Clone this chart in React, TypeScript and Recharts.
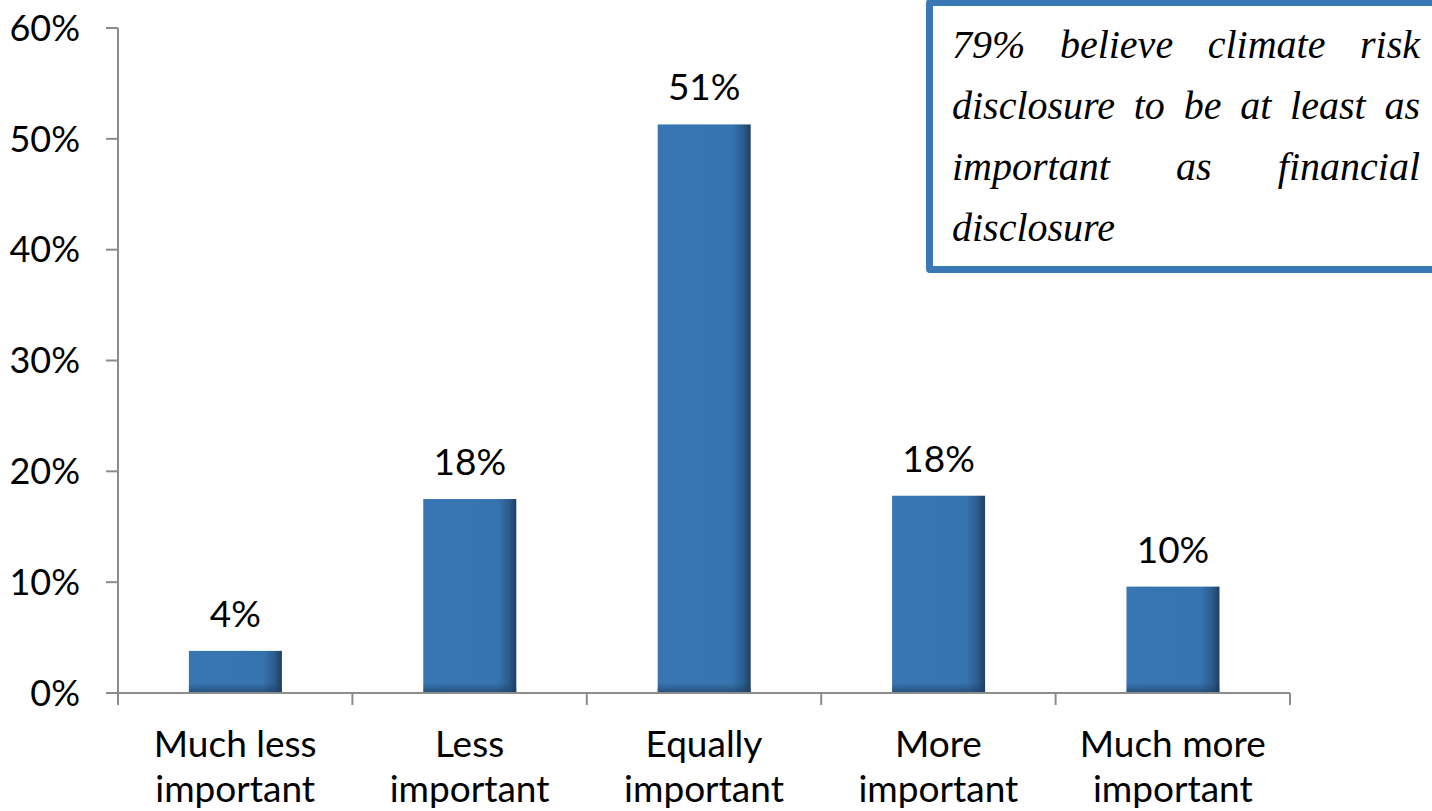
import React from 'react';
import { BarChart, Bar, XAxis, YAxis, LabelList } from 'recharts';

const categories = [
  'Much less\nimportant',
  'Less\nimportant',
  'Equally\nimportant',
  'More\nimportant',
  'Much more\nimportant',
];
const values = [3.8, 17.5, 51.3, 17.8, 9.6];
const yTicks = [0, 10, 20, 30, 40, 50, 60];
const noteLines = [
  '79% believe climate risk',
  'disclosure to be at least as',
  'important as financial',
  'disclosure',
];

const data = categories.map((c, i) => ({ name: c, value: values[i] }));

const FONT = 'Lato, "Open Sans", sans-serif';

const XTick = (props: any) => {
  const { x, y, payload, index } = props;
  const off = payload && payload.offset ? payload.offset : 117;
  const lines = String(payload.value).split('\n');
  return (
    <g>
      <line x1={x + off} x2={x + off} y1={y} y2={y + 12} stroke="#8c8c8c" strokeWidth={2} />
      {index === 0 && (
        <line x1={x - off} x2={x - off} y1={y} y2={y + 12} stroke="#8c8c8c" strokeWidth={2} />
      )}
      {lines.map((l, i) => (
        <text
          key={i}
          x={x}
          y={y + 64 + i * 45}
          textAnchor="middle"
          fontFamily={FONT}
          fontSize={37}
          fill="#000"
        >
          {l}
        </text>
      ))}
    </g>
  );
};

const BarShape = (props: any) => {
  const { x, y, width, height } = props;
  if (!height || height <= 0) return null;
  return (
    <g>
      <rect x={x} y={y} width={width} height={height} fill="url(#barH)" />
      <rect x={x} y={y + height - Math.min(10, height)} width={width} height={Math.min(10, height)} fill="url(#barV)" />
    </g>
  );
};

export default function App() {
  return (
    <div
      style={{
        position: 'absolute',
        left: 0,
        top: 0,
        width: 1432,
        height: 811,
        overflow: 'hidden',
        background: '#fff',
      }}
    >
      <BarChart
        width={1432}
        height={811}
        data={data}
        margin={{ top: 28, right: 142, bottom: 0, left: 0 }}
        barCategoryGap="20%"
      >
        <defs>
          <linearGradient id="barH" x1="0" y1="0" x2="1" y2="0">
            <stop offset="0%" stopColor="#3776b2" />
            <stop offset="80%" stopColor="#3674b0" />
            <stop offset="92%" stopColor="#2b5c8e" />
            <stop offset="100%" stopColor="#1f3e60" />
          </linearGradient>
          <linearGradient id="barV" x1="0" y1="0" x2="0" y2="1">
            <stop offset="0%" stopColor="#1f3e60" stopOpacity={0} />
            <stop offset="100%" stopColor="#1f3e60" stopOpacity={0.7} />
          </linearGradient>
        </defs>
        <XAxis
          dataKey="name"
          axisLine={{ stroke: '#8c8c8c', strokeWidth: 2 }}
          tickLine={false}
          tickSize={0}
          tickMargin={0}
          interval={0}
          tick={<XTick />}
          height={118}
        />
        <YAxis
          domain={[0, 60]}
          ticks={yTicks}
          width={118}
          axisLine={{ stroke: '#8c8c8c', strokeWidth: 2 }}
          tickLine={{ stroke: '#8c8c8c', strokeWidth: 2 }}
          tickSize={12}
          tickMargin={26}
          tickFormatter={(v: number) => `${v}%`}
          tick={{ fontFamily: FONT, fontSize: 36, fill: '#000' }}
        />
        <Bar
          dataKey="value"
          isAnimationActive={false}
          shape={<BarShape />}
          maxBarSize={93}
        >
          <LabelList
            dataKey="value"
            position="top"
            offset={24}
            formatter={(v: any) => `${Math.round(Number(v))}%`}
            style={{ fontFamily: FONT, fontSize: 37, fill: '#000' }}
          />
        </Bar>
      </BarChart>
      <div
        style={{
          position: 'absolute',
          left: 926,
          top: -1,
          width: 530,
          height: 274,
          boxSizing: 'border-box',
          border: '7px solid #3a78b5',
          borderRadius: 4,
          background: '#fff',
        }}
      >
        <div
          style={{
            position: 'absolute',
            left: 19,
            top: 8,
            width: 468,
            fontFamily: '"Liberation Serif", "DejaVu Serif", serif',
            fontStyle: 'italic',
            fontSize: 40,
            lineHeight: '61px',
            color: '#000',
          }}
        >
          {noteLines.map((l, i) => (
            <div
              key={i}
              style={{
                textAlign: i < noteLines.length - 1 ? 'justify' : 'left',
                textAlignLast: i < noteLines.length - 1 ? 'justify' : 'left',
                whiteSpace: 'nowrap',
              }}
            >
              {l}
            </div>
          ))}
        </div>
      </div>
    </div>
  );
}
